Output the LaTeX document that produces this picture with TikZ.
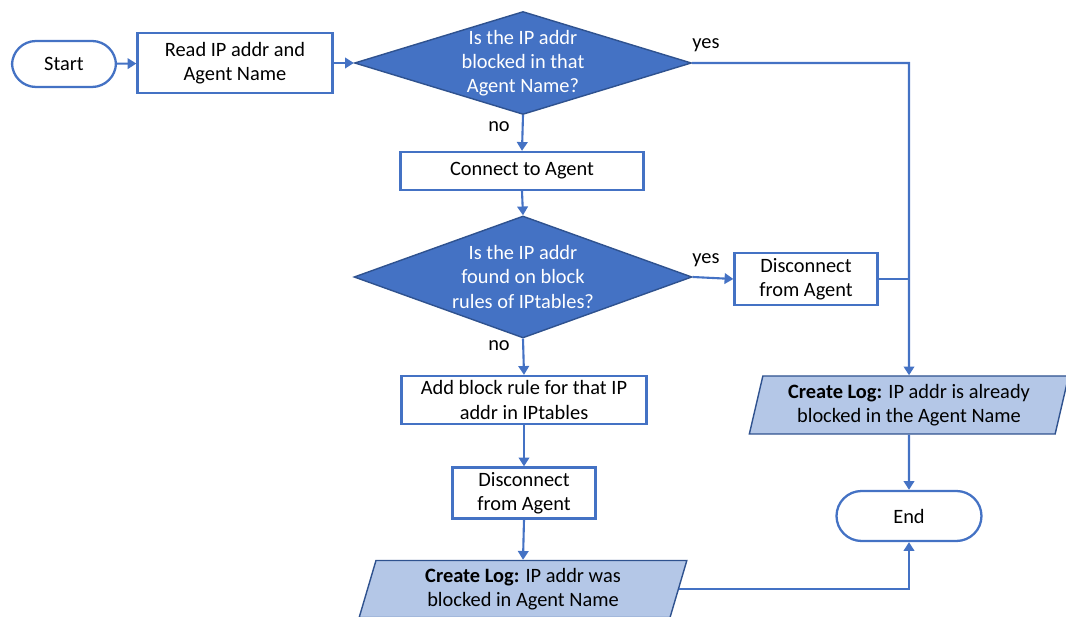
\documentclass[tikz,border=0pt]{standalone}
\usepackage{fontspec}
\setmainfont{Carlito}
\usetikzlibrary{shapes.geometric,arrows.meta}
\definecolor{obl}{HTML}{4472C4}
\definecolor{odk}{HTML}{2F528F}
\definecolor{olt}{HTML}{B4C7E7}
\begin{document}
\begin{tikzpicture}[x=0.02cm,y=-0.02cm,
  every node/.style={font=\fontsize{11.6}{13.7}\selectfont, align=center},
  term/.style={draw=obl, line width=1.3pt, fill=white, rectangle, rounded corners=0.48cm, inner sep=0pt},
  proc/.style={draw=obl, line width=1.3pt, fill=white, rectangle, inner sep=0pt},
  dec/.style={draw=odk, line width=0.8pt, fill=obl, diamond, inner sep=0pt},
  dectext/.style={text=white, inner sep=0pt},
  logbox/.style={draw=odk, line width=0.8pt, fill=olt, trapezium, trapezium left angle=75, trapezium right angle=105, trapezium stretches=true, inner sep=0pt},
  conn/.style={draw=obl, line width=1.2pt},
  arr/.style={conn, -{Triangle[width=6pt,length=5pt]}},
  lab/.style={inner sep=0pt}
]
\useasboundingbox (0,0) rectangle (1066,617);

\node[term, minimum width=2.08cm, minimum height=0.92cm] (start) at (64,64) {Start};
\node[proc, minimum width=3.9cm, minimum height=1.2cm] (read) at (235,63) {Read IP addr and\\Agent Name};
\node[dec, minimum width=6.74cm, minimum height=2.06cm,
  label={[dectext]center:{Is the IP addr\\blocked in that\\Agent Name?}}] (d1) at (523,63) {};
\node[proc, minimum width=4.86cm, minimum height=0.76cm] (connect) at (522,171) {Connect to Agent};
\node[dec, minimum width=6.76cm, minimum height=2.44cm,
  label={[dectext]center:{Is the IP addr\\found on block\\rules of IPtables?}}] (d2) at (523,277) {};
\node[proc, minimum width=2.86cm, minimum height=1.04cm] (discr) at (806,279) {Disconnect\\from Agent};
\node[proc, minimum width=4.9cm, minimum height=0.96cm] (add) at (524,400) {Add block rule for that IP\\addr in IPtables};
\node[proc, minimum width=2.86cm, minimum height=1.02cm] (disc2) at (524,493) {Disconnect\\from Agent};
\node[logbox, minimum width=6.56cm, minimum height=1.14cm] (log2) at (523,589) {\textbf{Create Log:} IP addr was\\blocked in Agent Name};
\node[logbox, minimum width=6.4cm, minimum height=1.16cm] (log1) at (909,405) {\textbf{Create Log:} IP addr is already\\blocked in the Agent Name};
\node[term, minimum width=2.9cm, minimum height=1.0cm, rounded corners=0.5cm] (end) at (909,516) {End};

\coordinate (c1) at (909,63);
\coordinate (c2) at (909,279);

\draw[arr] (start) -- (read);
\draw[arr] (read) -- (d1.west);
\draw[arr] (d1.east) -- (c1) -- (log1.north);
\draw[arr] (d1.south) -- (connect.north);
\draw[arr] (connect.south) -- (d2.north);
\draw[arr] (d2.east) -- (discr.west);
\draw[conn] (discr.east) -- (c2);
\draw[arr] (d2.south) -- (add.north);
\draw[arr] (add.south) -- (disc2.north);
\draw[arr] (disc2.south) -- (log2.north);
\draw[arr] (log1.south) -- (end.north);
\draw[arr] (log2.east) -| (end.south);

\node[lab] (y1) at (706,45) {yes};
\node[lab] (n1) at (499,127) {no};
\node[lab] (y2) at (706,260) {yes};
\node[lab] (n2) at (499,346) {no};
\end{tikzpicture}
\end{document}
